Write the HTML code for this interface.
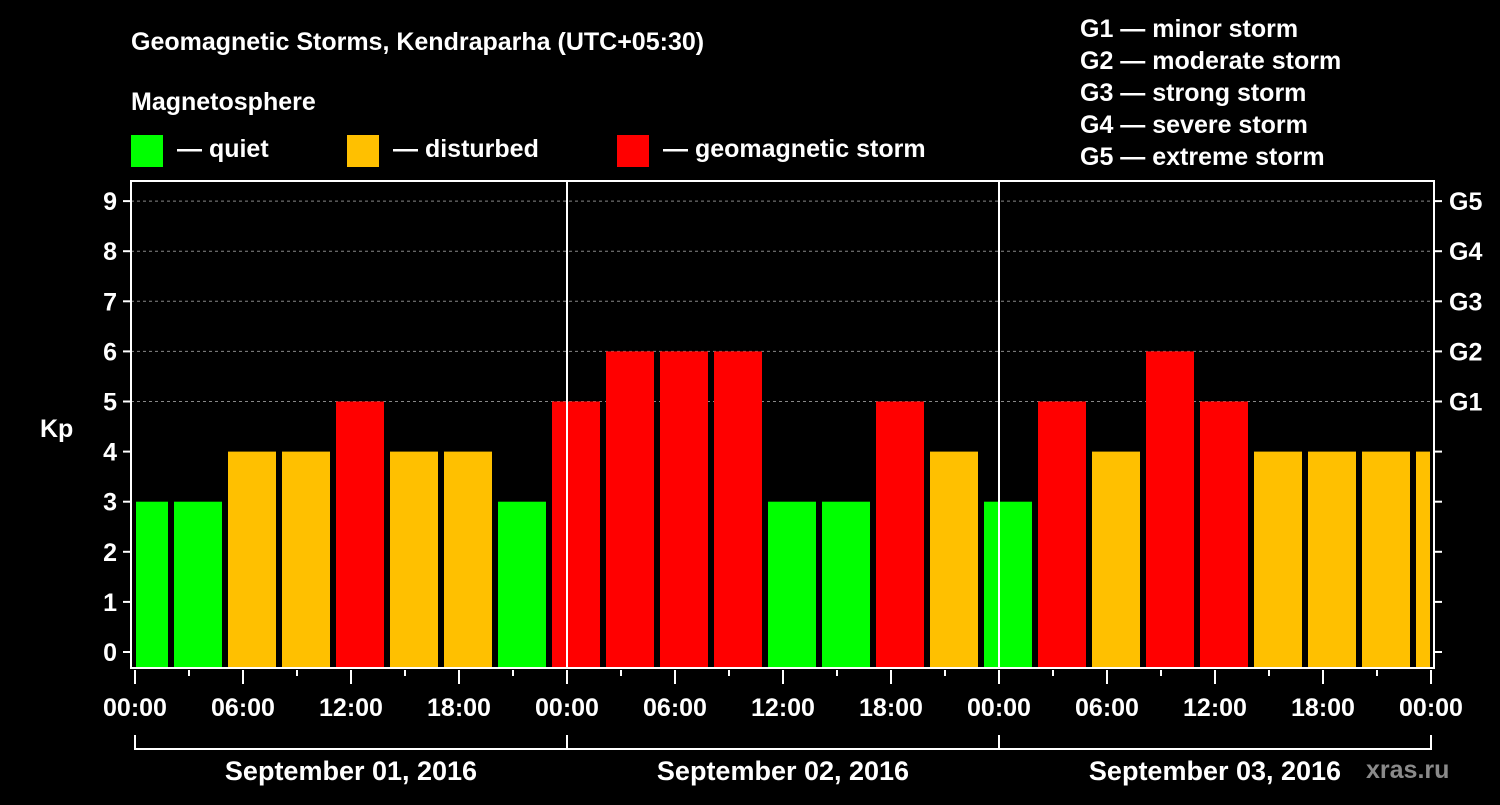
<!DOCTYPE html>
<html><head><meta charset="utf-8"><style>
body{margin:0;background:#000;}
svg text{font-family:"Liberation Sans",Arial,sans-serif;font-weight:bold;fill:#fff;}
</style></head><body>
<svg width="1500" height="800" viewBox="0 0 1500 800">
<rect width="1500" height="800" fill="#000"/>
<text x="131" y="50" font-size="25">Geomagnetic Storms, Kendraparha (UTC+05:30)</text>
<text x="131" y="110" font-size="25">Magnetosphere</text>
<g>
<rect x="131" y="135" width="32" height="32" fill="#00ff00"/>
<text x="177" y="157" font-size="25">— quiet</text>
<rect x="347" y="135" width="32" height="32" fill="#ffc000"/>
<text x="393" y="157" font-size="25">— disturbed</text>
<rect x="617" y="135" width="32" height="32" fill="#ff0000"/>
<text x="663" y="157" font-size="25">— geomagnetic storm</text>
</g>
<g font-size="25">
<text x="1080" y="37">G1 — minor storm</text>
<text x="1080" y="69">G2 — moderate storm</text>
<text x="1080" y="101">G3 — strong storm</text>
<text x="1080" y="133">G4 — severe storm</text>
<text x="1080" y="165">G5 — extreme storm</text>
</g>
<text x="40" y="437" font-size="25">Kp</text>
<text x="1366" y="778" font-size="25" fill="#888" style="fill:#8a8a8a">xras.ru</text>
<g id="grid"></g>
<g id="bars"></g>
<g id="axes"></g>
</svg>
<script>
const kpValues=[3,3,4,4,5,4,4,3,5,6,6,6,3,3,5,4,3,5,4,6,5,4,4,4,4];
const yTicks=[0,1,2,3,4,5,6,7,8,9];
const gLabels=["G1","G2","G3","G4","G5"];
const gLevels=[5,6,7,8,9];
const timeLabels=["00:00","06:00","12:00","18:00","00:00","06:00","12:00","18:00","00:00","06:00","12:00","18:00","00:00"];
const dayLabels=["September 01, 2016","September 02, 2016","September 03, 2016"];
const NS="http://www.w3.org/2000/svg";
const L=131,R=1434,T=181,B=668,X0=135,HPX=18;
const yS=v=>652-v*50.1;
const xS=h=>X0+h*HPX;
function mk(tag,at,parent){const e=document.createElementNS(NS,tag);for(const k in at)e.setAttribute(k,at[k]);document.getElementById(parent).appendChild(e);return e;}
// grid
yTicks.forEach(v=>{if(v>=5){const g=mk('line',{x1:L,x2:R,y1:yS(v),y2:yS(v),stroke:'#888','stroke-dasharray':'3,3','stroke-width':1},'grid');

}});
// bars: slot starts at 2h, 3h each
kpValues.forEach((v,i)=>{
 let x1=xS(2+3*(i-1))+3, x2=xS(2+3*i)-3;
 x1=Math.max(x1,L+5); x2=Math.min(x2,R-4);
 const c=v>=5?'#ff0000':(v>=4?'#ffc000':'#00ff00');
 const r=mk('rect',{x:x1,y:yS(v),width:x2-x1,height:B-yS(v),fill:c},'bars');
 
 
});
// frame
const f=mk('rect',{x:L,y:T,width:R-L,height:B-T,fill:'none',stroke:'#fff','stroke-width':2},'axes');


[1,2].forEach(d=>{const l=mk('line',{x1:xS(24*d),x2:xS(24*d),y1:T,y2:B,stroke:'#fff','stroke-width':2},'axes');

});
yTicks.forEach(v=>{
 const y=yS(v);
 const t=mk('line',{x1:L-8,x2:L,y1:y,y2:y,stroke:'#fff','stroke-width':2},'axes');
 
 
 const t2=mk('line',{x1:R,x2:R+8,y1:y,y2:y,stroke:'#fff','stroke-width':2},'axes');
 
 
 const tx=mk('text',{x:L-14,y:y+9,'font-size':25,'text-anchor':'end'},'axes');tx.textContent=v;
 
 
});
gLabels.forEach((g,i)=>{const tx=mk('text',{x:R+15,y:yS(gLevels[i])+9,'font-size':25},'axes');tx.textContent=g;

});
for(let h=0;h<=72;h+=3){const big=h%6===0;const t=mk('line',{x1:xS(h),x2:xS(h),y1:B+2,y2:B+(big?16:8),stroke:'#fff','stroke-width':2},'axes');

}
timeLabels.forEach((s,i)=>{const tx=mk('text',{x:xS(i*6),y:716,'font-size':25,'text-anchor':'middle'},'axes');tx.textContent=s;

});
const br=mk('path',{d:`M${xS(0)},735V749H${xS(72)}V735M${xS(24)},735V749M${xS(48)},735V749`,stroke:'#fff','stroke-width':2,fill:'none'},'axes');


dayLabels.forEach((s,i)=>{const tx=mk('text',{x:xS(24*i+12),y:780,'font-size':27,'text-anchor':'middle'},'axes');tx.textContent=s;

});
</script>
</body></html>
